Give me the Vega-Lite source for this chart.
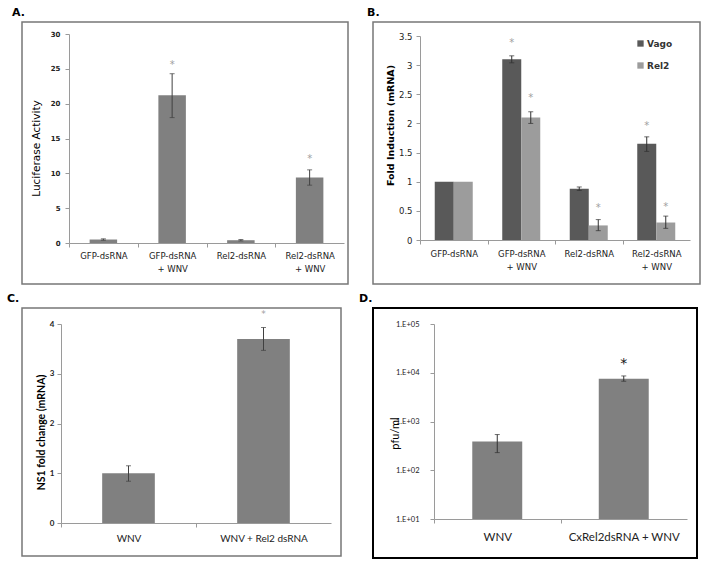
{
  "$schema": "https://vega.github.io/schema/vega-lite/v6.json",
  "background": "white",
  "padding": {"left": 6, "top": 6, "right": 0, "bottom": 0},
  "spacing": 7,
  "vconcat": [
    {
      "spacing": 17,
      "hconcat": [
        {
          "width": 326,
          "height": 262,
          "title": {"text": "A.", "anchor": "start", "frame": "group", "dx": -10, "offset": -5, "baseline": "alphabetic", "font": "DejaVu Sans", "fontSize": 11, "fontWeight": "bold", "color": "#000"},
          "view": {"stroke": "#777777", "strokeWidth": 1.5},
          "data": {"values": [
            {"cat": "GFP-dsRNA", "value": 0.5, "lo": 0.4, "hi": 0.6, "star": null},
            {"cat": "GFP-dsRNA|+ WNV", "value": 21.2, "lo": 18.0, "hi": 24.3, "star": 25.6},
            {"cat": "Rel2-dsRNA", "value": 0.4, "lo": 0.3, "hi": 0.5, "star": null},
            {"cat": "Rel2-dsRNA|+ WNV", "value": 9.4, "lo": 8.3, "hi": 10.5, "star": 12.0}
          ]},
          "encoding": {
            "x": {"field": "cat", "type": "nominal", "sort": null,
              "scale": {"range": [47, 322], "paddingInner": 0.6, "paddingOuter": 0.3},
              "axis": {"title": null, "orient": "bottom", "offset": -41, "bandPosition": 0.5, "tickOffset": -34.375, "labelOffset": 34.375, "tickSize": 4, "labelPadding": 4, "labelAngle": 0, "labelFont": "DejaVu Sans", "labelFontSize": 8.5, "labelLineHeight": 13, "labelColor": "#222",
                "labelExpr": "indexof(datum.label,'|') < 0 ? datum.label : [split(datum.label,'|')[0], split(datum.label,'|')[1] + '       ']"}}
          },
          "layer": [
            {"mark": {"type": "bar", "color": "#808080"},
             "encoding": {"y": {"field": "value", "type": "quantitative",
               "scale": {"domain": [0, 30], "range": [221, 12], "nice": false},
               "axis": {"title": "Luciferase Activity", "orient": "left", "offset": -47, "values": [0, 5, 10, 15, 20, 25, 30], "tickSize": 4, "labelPadding": 5, "labelFont": "DejaVu Sans", "labelFontSize": 7, "labelFontWeight": "bold", "labelColor": "#222",
                 "titleFont": "DejaVu Sans", "titleFontSize": 10.5, "titleFontWeight": "normal", "titleX": -33, "titleY": 126, "titleAngle": -90, "titleAlign": "center", "titleBaseline": "middle"}}}},
            {"mark": {"type": "rule", "color": "#404040", "strokeWidth": 1},
             "encoding": {"y": {"field": "lo", "type": "quantitative"}, "y2": {"field": "hi"}}},
            {"mark": {"type": "tick", "color": "#404040", "size": 5, "thickness": 1},
             "encoding": {"y": {"field": "lo", "type": "quantitative"}}},
            {"mark": {"type": "tick", "color": "#404040", "size": 5, "thickness": 1},
             "encoding": {"y": {"field": "hi", "type": "quantitative"}}},
            {"mark": {"type": "text", "text": "*", "color": "#a0a0a0", "fontSize": 10, "font": "DejaVu Sans", "baseline": "middle"},
             "encoding": {"y": {"field": "star", "type": "quantitative"}}}
          ]
        },
        {
          "width": 327,
          "height": 262,
          "title": {"text": "B.", "anchor": "start", "frame": "group", "dx": -6, "offset": -5, "baseline": "alphabetic", "font": "DejaVu Sans", "fontSize": 11, "fontWeight": "bold", "color": "#000"},
          "view": {"stroke": "#777777", "strokeWidth": 1.5},
          "data": {"values": [
            {"cat": "GFP-dsRNA", "series": "Vago", "value": 1.0, "lo": null, "hi": null, "star": null},
            {"cat": "GFP-dsRNA", "series": "Rel2", "value": 1.0, "lo": null, "hi": null, "star": null},
            {"cat": "GFP-dsRNA|+ WNV", "series": "Vago", "value": 3.1, "lo": 3.04, "hi": 3.16, "star": 3.38},
            {"cat": "GFP-dsRNA|+ WNV", "series": "Rel2", "value": 2.1, "lo": 2.0, "hi": 2.2, "star": 2.44},
            {"cat": "Rel2-dsRNA", "series": "Vago", "value": 0.88, "lo": 0.85, "hi": 0.91, "star": null},
            {"cat": "Rel2-dsRNA", "series": "Rel2", "value": 0.25, "lo": 0.16, "hi": 0.35, "star": 0.55},
            {"cat": "Rel2-dsRNA|+ WNV", "series": "Vago", "value": 1.65, "lo": 1.52, "hi": 1.77, "star": 1.96},
            {"cat": "Rel2-dsRNA|+ WNV", "series": "Rel2", "value": 0.3, "lo": 0.2, "hi": 0.41, "star": 0.57}
          ]},
          "encoding": {
            "x": {"field": "cat", "type": "nominal", "sort": null,
              "scale": {"range": [47, 317], "paddingInner": 0.437, "paddingOuter": 0.2185},
              "axis": {"title": null, "orient": "bottom", "offset": -44, "bandPosition": 0.5, "tickOffset": -33.75, "labelOffset": 33.75, "tickSize": 4, "labelPadding": 5, "labelAngle": 0, "labelFont": "DejaVu Sans", "labelFontSize": 8.5, "labelLineHeight": 13, "labelColor": "#222",
                "labelExpr": "indexof(datum.label,'|') < 0 ? datum.label : [split(datum.label,'|')[0], split(datum.label,'|')[1] + '       ']"}},
            "xOffset": {"field": "series", "type": "nominal", "sort": ["Vago", "Rel2"], "scale": {"paddingInner": 0, "paddingOuter": 0}}
          },
          "layer": [
            {"mark": {"type": "bar"},
             "encoding": {
               "y": {"field": "value", "type": "quantitative",
                 "scale": {"domain": [0, 3.5], "range": [218, 14], "nice": false},
                 "axis": {"title": "Fold Induction (mRNA)", "orient": "left", "offset": -47, "values": [0, 0.5, 1, 1.5, 2, 2.5, 3, 3.5], "tickCount": 8, "labelOverlap": false, "labelExpr": "datum.value == 0 ? '0' : format(datum.value, '.2~f')", "tickSize": 4, "labelPadding": 4, "labelFont": "DejaVu Sans", "labelFontSize": 8.5, "labelColor": "#222",
                   "titleFont": "DejaVu Sans", "titleFontSize": 9.5, "titleFontWeight": "bold", "titleX": -30, "titleY": 103, "titleAngle": -90, "titleAlign": "center", "titleBaseline": "middle"}},
               "color": {"field": "series", "type": "nominal",
                 "scale": {"domain": ["Vago", "Rel2"], "range": ["#595959", "#9c9c9c"]},
                 "legend": {"title": null, "orient": "none", "legendX": 614, "legendY": 17, "symbolType": "square", "symbolSize": 40, "symbolStrokeWidth": 0, "padding": 0, "rowPadding": 12, "labelOffset": 2, "labelFont": "DejaVu Sans", "labelFontSize": 9, "labelFontWeight": "bold", "labelColor": "#333"}}
             }},
            {"mark": {"type": "rule", "color": "#303030", "strokeWidth": 1},
             "encoding": {"y": {"field": "lo", "type": "quantitative"}, "y2": {"field": "hi"}}},
            {"mark": {"type": "tick", "color": "#303030", "size": 5, "thickness": 1},
             "encoding": {"y": {"field": "lo", "type": "quantitative"}}},
            {"mark": {"type": "tick", "color": "#303030", "size": 5, "thickness": 1},
             "encoding": {"y": {"field": "hi", "type": "quantitative"}}},
            {"mark": {"type": "text", "text": "*", "color": "#a0a0a0", "fontSize": 10, "font": "DejaVu Sans", "baseline": "middle"},
             "encoding": {"y": {"field": "star", "type": "quantitative"}}}
          ]
        }
      ]
    },
    {
      "spacing": 16,
      "hconcat": [
        {
          "width": 319,
          "height": 248,
          "title": {"text": "C.", "anchor": "start", "frame": "group", "dx": -15, "offset": -5, "baseline": "alphabetic", "font": "DejaVu Sans", "fontSize": 11, "fontWeight": "bold", "color": "#000"},
          "view": {"stroke": "#777777", "strokeWidth": 1.5},
          "data": {"values": [
            {"cat": "WNV", "value": 1.0, "lo": 0.84, "hi": 1.15, "star": null},
            {"cat": "WNV + Rel2 dsRNA", "value": 3.7, "lo": 3.47, "hi": 3.93, "star": 4.2}
          ]},
          "encoding": {
            "x": {"field": "cat", "type": "nominal", "sort": null,
              "scale": {"range": [39, 309], "paddingInner": 0.61, "paddingOuter": 0.305},
              "axis": {"title": null, "orient": "bottom", "offset": -33, "bandPosition": 0.5, "tickOffset": -67.5, "labelOffset": 67.5, "tickSize": 4, "labelPadding": 6, "labelAngle": 0, "labelFont": "Lato", "labelFontSize": 10, "labelColor": "#222"}}
          },
          "layer": [
            {"mark": {"type": "bar", "color": "#808080"},
             "encoding": {"y": {"field": "value", "type": "quantitative",
               "scale": {"domain": [0, 4], "range": [215, 16], "nice": false},
               "axis": {"title": "NS1 fold change (mRNA)", "orient": "left", "offset": -39, "values": [0, 1, 2, 3, 4], "format": "d", "tickSize": 4, "labelPadding": 3, "labelFont": "Lato", "labelFontSize": 8, "labelFontWeight": "bold", "labelColor": "#222",
                 "titleFont": "Lato", "titleFontSize": 10.5, "titleFontWeight": "bold", "titleX": -20, "titleY": 124, "titleAngle": -90, "titleAlign": "center", "titleBaseline": "middle"}}}},
            {"mark": {"type": "rule", "color": "#404040", "strokeWidth": 1},
             "encoding": {"y": {"field": "lo", "type": "quantitative"}, "y2": {"field": "hi"}}},
            {"mark": {"type": "tick", "color": "#404040", "size": 5, "thickness": 1},
             "encoding": {"y": {"field": "lo", "type": "quantitative"}}},
            {"mark": {"type": "tick", "color": "#404040", "size": 5, "thickness": 1},
             "encoding": {"y": {"field": "hi", "type": "quantitative"}}},
            {"mark": {"type": "text", "text": "*", "color": "#a0a0a0", "fontSize": 9, "font": "DejaVu Sans", "baseline": "middle"},
             "encoding": {"y": {"field": "star", "type": "quantitative"}}}
          ]
        },
        {
          "width": 324,
          "height": 250,
          "title": {"text": "D.", "anchor": "start", "frame": "group", "dx": -14, "offset": -5, "baseline": "alphabetic", "font": "DejaVu Sans", "fontSize": 11, "fontWeight": "bold", "color": "#000"},
          "view": {"stroke": "#000000", "strokeWidth": 2},
          "data": {"values": [
            {"cat": "WNV", "value": 390, "base": 10, "lo": 230, "hi": 540, "star": null},
            {"cat": "CxRel2dsRNA + WNV", "value": 7500, "base": 10, "lo": 6700, "hi": 8600, "star": 15000}
          ]},
          "encoding": {
            "x": {"field": "cat", "type": "nominal", "sort": null,
              "scale": {"range": [61, 314], "paddingInner": 0.605, "paddingOuter": 0.3025},
              "axis": {"title": null, "orient": "bottom", "offset": -39, "bandPosition": 0.5, "tickOffset": -63.25, "labelOffset": 63.25, "tickSize": 4, "labelPadding": 8, "labelAngle": 0, "labelFont": "Lato", "labelFontSize": 11.5, "labelColor": "#222"}}
          },
          "layer": [
            {"mark": {"type": "bar", "color": "#808080"},
             "encoding": {
               "y": {"field": "value", "type": "quantitative",
                 "scale": {"type": "log", "domain": [10, 100000], "range": [211, 16], "nice": false},
                 "axis": {"title": "pfu/ml", "orient": "left", "offset": -61, "values": [10, 100, 1000, 10000, 100000], "labelExpr": "replace(format(datum.value,'.0e'),'e+','.E+0')", "tickSize": 4, "labelPadding": 11, "labelFont": "Lato", "labelFontSize": 7.5, "labelColor": "#222",
                   "titleFont": "Lato", "titleFontSize": 11, "titleFontWeight": "normal", "titleX": -39, "titleY": 125, "titleAngle": -90, "titleAlign": "center", "titleBaseline": "middle"}},
               "y2": {"field": "base"}
             }},
            {"mark": {"type": "rule", "color": "#303030", "strokeWidth": 1},
             "encoding": {"y": {"field": "lo", "type": "quantitative"}, "y2": {"field": "hi"}}},
            {"mark": {"type": "tick", "color": "#303030", "size": 5, "thickness": 1},
             "encoding": {"y": {"field": "lo", "type": "quantitative"}}},
            {"mark": {"type": "tick", "color": "#303030", "size": 5, "thickness": 1},
             "encoding": {"y": {"field": "hi", "type": "quantitative"}}},
            {"mark": {"type": "text", "text": "*", "color": "#111", "fontSize": 14, "font": "DejaVu Sans", "baseline": "middle"},
             "encoding": {"y": {"field": "star", "type": "quantitative"}}}
          ]
        }
      ]
    }
  ],
  "config": {
    "view": {"stroke": null},
    "axis": {"grid": false, "labelOverlap": false, "domainColor": "#9a9a9a", "tickColor": "#9a9a9a", "domainWidth": 1, "tickWidth": 1}
  }
}
